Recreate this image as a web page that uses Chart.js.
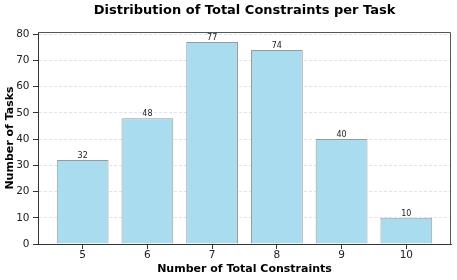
<!DOCTYPE html>
<html>
<head>
<meta charset="utf-8">
<script src="https://cdn.jsdelivr.net/npm/chart.js@4/dist/chart.umd.min.js"></script>
<style>
html,body{margin:0;padding:0;background:#fff;}
#wrap{width:457px;height:280px;position:relative;}
</style>
</head>
<body>
<div id="wrap"><canvas id="c" width="457" height="280"></canvas></div>
<script>
const categories = [5, 6, 7, 8, 9, 10];
const taskCounts = [32, 48, 77, 74, 40, 10];
const yTickValues = [0, 10, 20, 30, 40, 50, 60, 70, 80];
const titleText = 'Distribution of Total Constraints per Task';
const xTitle = 'Number of Total Constraints';
const yTitle = 'Number of Tasks';

Chart.defaults.font.family = "'DejaVu Sans', sans-serif";
Chart.defaults.color = '#222';

const xMin = Math.min(...categories) - 0.69;
const xMax = Math.max(...categories) + 0.69;
const yMax = Math.max(...taskCounts) * 1.05;

const frame = {
  id: 'frame',
  afterDraw(chart) {
    const {ctx, chartArea: a} = chart;
    ctx.save();
    ctx.strokeStyle = '#555';
    ctx.lineWidth = 1;
    ctx.beginPath();
    ctx.moveTo(a.left, a.top + 0.5);
    ctx.lineTo(a.right - 0.5, a.top + 0.5);
    ctx.lineTo(a.right - 0.5, a.bottom);
    ctx.stroke();
    ctx.restore();
  }
};

const valueLabels = {
  id: 'valueLabels',
  afterDatasetsDraw(chart) {
    const {ctx} = chart;
    const meta = chart.getDatasetMeta(0);
    ctx.save();
    ctx.font = "8px 'DejaVu Sans'";
    ctx.fillStyle = '#222';
    ctx.textAlign = 'center';
    ctx.textBaseline = 'alphabetic';
    meta.data.forEach((bar, i) => {
      ctx.fillText(String(taskCounts[i]), bar.x, bar.y - 2);
    });
    ctx.restore();
  }
};

new Chart(document.getElementById('c'), {
  type: 'bar',
  data: {
    datasets: [{
      data: categories.map((c, i) => ({x: c, y: taskCounts[i]})),
      backgroundColor: '#A9DCEF',
      borderColor: '#9a9a9a',
      borderWidth: 1,
      categoryPercentage: 1,
      barPercentage: 0.8
    }]
  },
  options: {
    responsive: false,
    animation: false,
    devicePixelRatio: 1,
    layout: {padding: {left: 4, right: 6, top: 0, bottom: 0}},
    plugins: {
      legend: {display: false},
      tooltip: {enabled: false},
      title: {
        display: true,
        text: titleText,
        fullSize: false,
        color: '#000',
        font: {size: 13, weight: 'bold'},
        padding: {top: 3, bottom: 13.4}
      }
    },
    scales: {
      x: {
        type: 'linear',
        offset: false,
        min: xMin,
        max: xMax,
        afterBuildTicks(scale) { scale.ticks = categories.map(v => ({value: v})); },
        afterFit(scale) { scale.height = 36; },
        ticks: {font: {size: 10.5}, color: '#222', padding: 0, maxRotation: 0, autoSkip: false},
        grid: {offset: false, drawOnChartArea: false, drawTicks: true, tickLength: 5, tickColor: '#333', tickWidth: 1},
        border: {display: true, color: '#333', width: 1},
        title: {display: true, text: xTitle, color: '#000', font: {size: 11, weight: 'bold'}, padding: {top: 0, bottom: 4}}
      },
      y: {
        type: 'linear',
        min: 0,
        max: yMax,
        afterBuildTicks(scale) { scale.ticks = yTickValues.map(v => ({value: v})); },
        afterFit(scale) { scale.width = 34; },
        ticks: {font: {size: 10.5}, color: '#222', padding: 3.5},
        grid: {color: '#dcdcdc', lineWidth: 0.8, tickLength: 5, tickColor: '#333', tickWidth: 1, tickBorderDash: []},
        border: {display: true, color: '#333', width: 1, dash: [3, 2]},
        title: {display: true, text: yTitle, color: '#000', font: {size: 11, weight: 'bold'}, padding: {top: 0, bottom: 0}}
      }
    }
  },
  plugins: [frame, valueLabels]
});
</script>
</body>
</html>
